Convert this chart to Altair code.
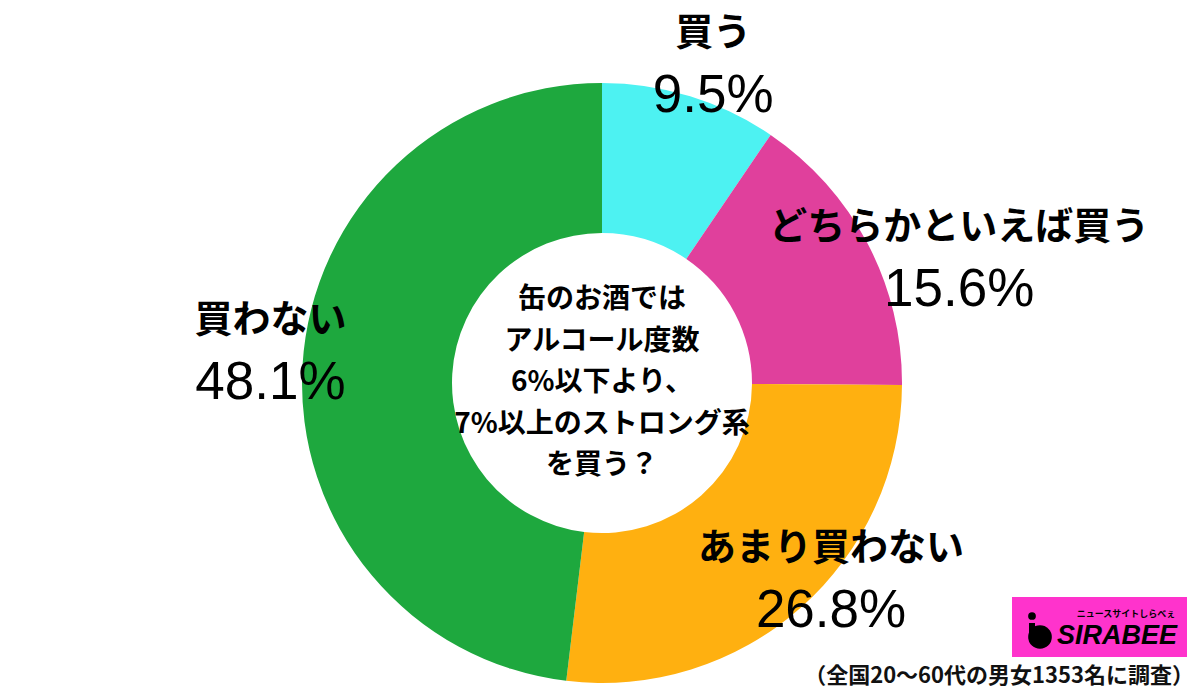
import math
import altair as alt
import pandas as pd

# ---- data ----
categories = ["買う", "どちらかといえば買う", "あまり買わない", "買わない"]
values = [9.5, 15.6, 26.8, 48.1]
colors = ["#4DF2F2", "#E0409C", "#FFB010", "#1EA83E"]
center_lines = ["缶のお酒では", "アルコール度数", "6%以下より、", "7%以上のストロング系", "を買う？"]
note = "（全国20〜60代の男女1353名に調査）"
logo_text = "SIRABEE"
logo_sub = "ニュースサイトしらべぇ"

# ---- layout (label placement, not data) ----
label_radius = [337, 378, 302, 333]
label_shift = [0.6, 2.4, -2.2, 0.55]

JP = "Noto Sans CJK JP"
NUM = "Liberation Sans"
W, H = 1180, 600
LINE_H = 41.5

df = pd.DataFrame({
    "cat": categories,
    "value": values,
    "order": list(range(len(values))),
    "lr": label_radius,
    "shift": label_shift,
})

theta_scale = alt.Scale(domain=[0, 100], range=[0, 2 * math.pi])

arcs = alt.Chart(df).mark_arc(outerRadius=300, innerRadius=150).encode(
    theta=alt.Theta("value:Q", stack=True, scale=theta_scale),
    color=alt.Color("cat:N", scale=alt.Scale(domain=categories, range=colors), legend=None),
    order=alt.Order("order:Q"),
)

lab = alt.Chart(df).transform_window(
    cum="sum(value)", sort=[alt.SortField("order")]
).transform_calculate(
    mid="datum.cum - datum.value / 2 + datum.shift",
    pct="format(datum.value, '.1f') + '%'",
)

names = lab.mark_text(fontSize=38, fontWeight="bold", font=JP, dy=-31, color="black",
                      baseline="middle", align="center").encode(
    theta=alt.Theta("mid:Q", scale=theta_scale),
    radius=alt.Radius("lr:Q", scale=None),
    text="cat:N",
)

pcts = lab.mark_text(fontSize=53, font=NUM, dy=31, color="black",
                     baseline="middle", align="center").encode(
    theta=alt.Theta("mid:Q", scale=theta_scale),
    radius=alt.Radius("lr:Q", scale=None),
    text="pct:N",
)

one = pd.DataFrame({"a": [0]})

center = alt.Chart(one).mark_text(
    text=center_lines, fontSize=28, fontWeight="bold", font=JP, lineHeight=LINE_H,
    baseline="middle", align="center", color="black",
    dy=-LINE_H * (len(center_lines) - 1) / 2,
).encode(x=alt.value(W / 2), y=alt.value(H / 2))

foot = alt.Chart(one).mark_text(
    text=note, fontSize=22, fontWeight="bold", font=JP, align="right",
    baseline="middle", color="#111111",
).encode(x=alt.value(1182), y=alt.value(593))

logo_rect = alt.Chart(one).mark_rect(color="#FF33CC").encode(
    x=alt.value(1000), x2=alt.value(1175), y=alt.value(514), y2=alt.value(574)
)
logo_blob = alt.Chart(one).mark_point(filled=True, color="black", opacity=1, size=560, shape="circle").encode(
    x=alt.value(1028), y=alt.value(554)
)
logo_dot = alt.Chart(one).mark_point(filled=True, color="black", opacity=1, size=60, shape="circle").encode(
    x=alt.value(1020), y=alt.value(533)
)
logo_stem = alt.Chart(one).mark_rule(color="black", strokeWidth=6).encode(
    x=alt.value(1020), y=alt.value(540), y2=alt.value(553)
)
logo_main = alt.Chart(one).mark_text(
    text=logo_text, fontSize=27, fontWeight="bold", fontStyle="italic", font=NUM,
    align="left", baseline="middle", color="black",
).encode(x=alt.value(1045), y=alt.value(553))
logo_small = alt.Chart(one).mark_text(
    text=logo_sub, fontSize=9, fontWeight="bold", font=JP,
    align="center", baseline="middle", color="black",
).encode(x=alt.value(1114), y=alt.value(531))

chart = alt.layer(
    arcs, names, pcts, center, foot,
    logo_rect, logo_stem, logo_blob, logo_dot, logo_main, logo_small,
).properties(
    width=W, height=H,
    padding={"left": 4, "top": 75, "right": 0, "bottom": 14},
    autosize=alt.AutoSizeParams(type="none"),
    background="white",
).configure_view(stroke=None)

chart.save("out.html", embed_options={"renderer": "svg", "actions": False})
